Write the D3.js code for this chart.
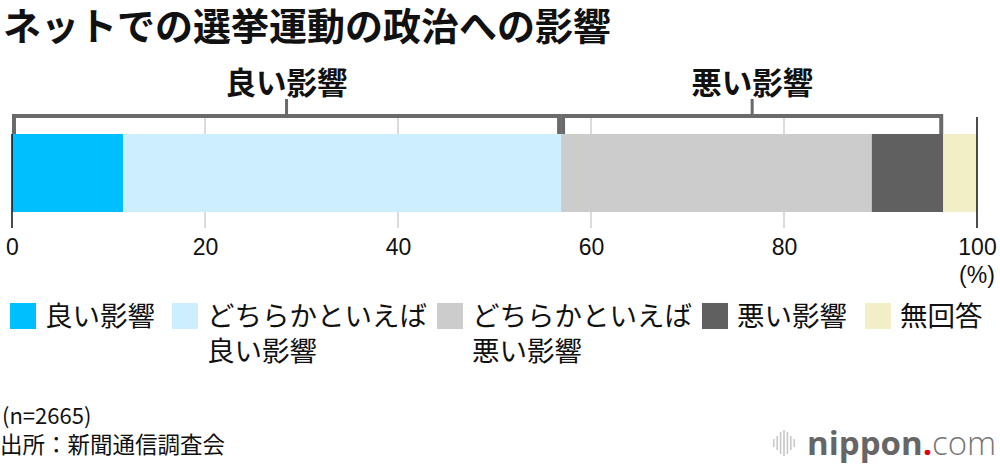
<!DOCTYPE html>
<html><head><meta charset="utf-8">
<script src="https://cdn.jsdelivr.net/npm/d3@7"></script>
<style>
html,body{margin:0;padding:0;background:#fff;}
svg{display:block;}
</style></head>
<body>
<svg id="chart" width="1000" height="466"></svg>
<script>
// ---- data ----
const categories = ["良い影響", "どちらかといえば良い影響", "どちらかといえば悪い影響", "悪い影響", "無回答"];
const legendLines = [["良い影響"], ["どちらかといえば", "良い影響"], ["どちらかといえば", "悪い影響"], ["悪い影響"], ["無回答"]];
const values = [11.5, 45.4, 32.2, 7.4, 3.5];
const colors = ["#00bfff", "#cdeffd", "#cccccc", "#606060", "#f2eec6"];
const tickValues = [0, 20, 40, 60, 80, 100];
const groups = [{label: "良い影響", from: 0, to: 2}, {label: "悪い影響", from: 2, to: 4}];
const title = "ネットでの選挙運動の政治への影響";
const sampleNote = "(n=2665)";
const source = "出所：新聞通信調査会";

const JP = "'Noto Sans CJK JP', 'Noto Sans', sans-serif";
const NUM = "'Liberation Sans', Arial, sans-serif";

const svg = d3.select("#chart");
const x = d3.scaleLinear().domain([0, 100]).range([12, 977]);
const barTop = 134, barBottom = 212;

// cumulative
let acc = 0;
const segs = values.map((v, i) => { const s = {i, x0: acc, x1: acc + v, c: colors[i]}; acc += v; return s; });

// title
svg.append("text").attr("x", 3).attr("y", 40)
  .attr("font-family", JP).attr("font-weight", 700).attr("font-size", 38)
  .attr("fill", "#111").text(title);

// gridlines
svg.append("g").selectAll("line").data(tickValues.filter(t => t > 0 && t < 100)).join("line")
  .attr("x1", d => x(d)).attr("x2", d => x(d)).attr("y1", 118).attr("y2", 228)
  .attr("stroke", "#cfcfcf").attr("stroke-width", 1.5);

// bar segments
svg.append("g").selectAll("rect").data(segs).join("rect")
  .attr("x", d => x(d.x0)).attr("width", d => x(d.x1) - x(d.x0))
  .attr("y", barTop).attr("height", barBottom - barTop)
  .attr("fill", d => d.c);

// brackets
const bg = svg.append("g");
groups.forEach(g => {
  const x0 = x(segs[g.from].x0) + 2, x1 = x(segs[g.to - 1].x1) - 2;
  bg.append("path").attr("d", `M${x0},${barTop}V116H${x1}V${barTop}`)
    .attr("fill", "none").attr("stroke", "#6a6a6a").attr("stroke-width", 4);
  const cx = (x(segs[g.from].x0) + x(segs[g.to - 1].x1)) / 2;
  bg.append("line").attr("x1", cx).attr("x2", cx).attr("y1", 99).attr("y2", 116)
    .attr("stroke", "#6a6a6a").attr("stroke-width", 3);
  bg.append("text").attr("x", cx).attr("y", 94).attr("text-anchor", "middle")
    .attr("font-family", JP).attr("font-weight", 700).attr("font-size", 30.5)
    .attr("fill", "#111").text(g.label);
});

// 0 and 100 axis lines
svg.append("line").attr("x1", x(0)).attr("x2", x(0)).attr("y1", barTop).attr("y2", 228)
  .attr("stroke", "#111").attr("stroke-width", 1.5);
svg.append("line").attr("x1", x(100)).attr("x2", x(100)).attr("y1", 117).attr("y2", 228)
  .attr("stroke", "#111").attr("stroke-width", 1.5);

// axis tick labels via d3.axisBottom
const axis = svg.append("g").attr("transform", "translate(0,232)")
  .call(d3.axisBottom(x).tickValues(tickValues).tickSize(0).tickPadding(0).tickFormat(d3.format("d")));
axis.select(".domain").remove();
axis.selectAll("text").attr("font-family", NUM).attr("font-size", 23).attr("fill", "#111")
  .attr("dy", "0").attr("y", 23);
svg.append("text").attr("x", x(100)).attr("y", 283).attr("text-anchor", "middle")
  .attr("font-family", NUM).attr("font-size", 23).attr("fill", "#111").text("(%)");

// legend
const legendX = [10, 172, 437, 702, 865];
const lg = svg.append("g");
categories.forEach((c, i) => {
  lg.append("rect").attr("x", legendX[i]).attr("y", 303).attr("width", 26).attr("height", 26).attr("fill", colors[i]);
  const t = lg.append("text").attr("font-family", JP).attr("font-size", 27.5).attr("fill", "#111");
  legendLines[i].forEach((ln, j) => {
    t.append("tspan").attr("x", legendX[i] + 35).attr("y", 326 + j * 34.5).text(ln);
  });
});

// footer
svg.append("text").attr("x", 2).attr("y", 424).attr("font-family", JP).attr("font-size", 22).attr("fill", "#111").text(sampleNote);
svg.append("text").attr("x", 0).attr("y", 453).attr("font-family", JP).attr("font-size", 22.5).attr("fill", "#111").text(source);

// logo
const logo = svg.append("g");
const barsH = [8, 14, 22, 26, 22, 14, 8];
barsH.forEach((h, i) => {
  logo.append("rect").attr("x", 773 + i * 3.4).attr("y", 443 - h / 2).attr("width", 1.6).attr("height", h).attr("fill", "#c8c8c8");
});
const lt = logo.append("text").attr("x", 807).attr("y", 455).attr("font-family", "'Open Sans', sans-serif").attr("font-size", 33);
lt.append("tspan").attr("font-weight", 700).attr("fill", "#666").text("nippon");
lt.append("tspan").attr("font-weight", 700).attr("fill", "#e60012").text(".");
lt.append("tspan").attr("font-weight", 300).attr("fill", "#777").text("com");
</script>
</body></html>
